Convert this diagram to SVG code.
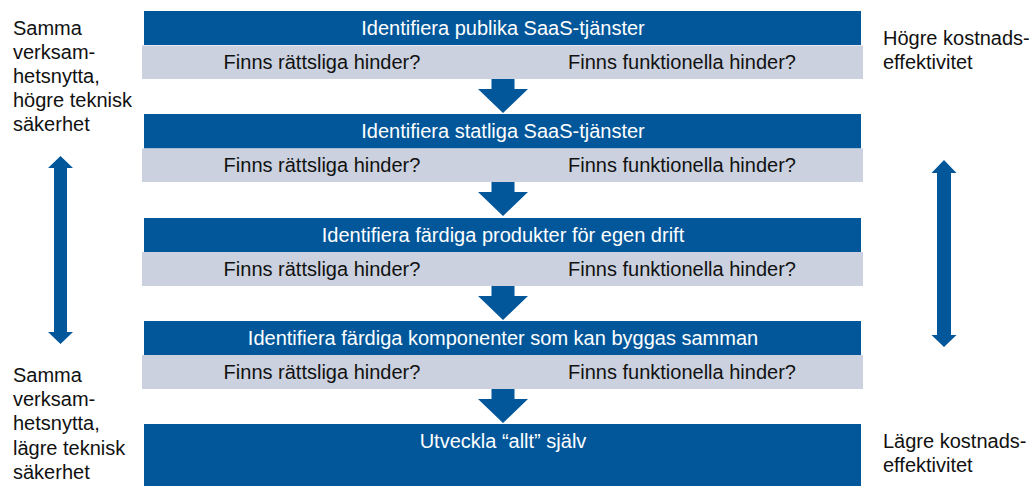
<svg xmlns="http://www.w3.org/2000/svg" width="1031" height="486" viewBox="0 0 1031 486">
<defs>
<style>
.dark{fill:#02579b}
.light{fill:#cbd1df}
.arr{fill:#02579b}
.tw{font-family:"Liberation Sans",Arial,sans-serif;font-size:20px;fill:#ffffff;text-anchor:middle}
.tb{font-family:"Liberation Sans",Arial,sans-serif;font-size:20px;fill:#111111;text-anchor:middle}
.side{font-family:"Liberation Sans",Arial,sans-serif;font-size:20px;fill:#111111}
</style>
<path id="down" d="M-11.5,0 H11.5 V10 H25 L0,34 L-25,10 H-11.5 Z"/>
</defs>
<rect width="1031" height="486" fill="#ffffff"/>

<g id="step1">
<rect class="dark" x="144" y="11" width="717" height="34"/>
<text class="tw" x="503" y="35">Identifiera publika SaaS-tjänster</text>
<rect class="light" x="142" y="45.5" width="721" height="33.5"/>
<text class="tb" x="322" y="69">Finns rättsliga hinder?</text>
<text class="tb" x="682" y="69">Finns funktionella hinder?</text>
</g>
<g id="step2">
<rect class="dark" x="144" y="114" width="717" height="34.5"/>
<text class="tw" x="503" y="138">Identifiera statliga SaaS-tjänster</text>
<rect class="light" x="142" y="148.5" width="721" height="33.5"/>
<text class="tb" x="322" y="172">Finns rättsliga hinder?</text>
<text class="tb" x="682" y="172">Finns funktionella hinder?</text>
</g>
<g id="step3">
<rect class="dark" x="144" y="218" width="717" height="34"/>
<text class="tw" x="503" y="242">Identifiera färdiga produkter för egen drift</text>
<rect class="light" x="142" y="252" width="721" height="34"/>
<text class="tb" x="322" y="276">Finns rättsliga hinder?</text>
<text class="tb" x="682" y="276">Finns funktionella hinder?</text>
</g>
<g id="step4">
<rect class="dark" x="144" y="321" width="717" height="34"/>
<text class="tw" x="503" y="345">Identifiera färdiga komponenter som kan byggas samman</text>
<rect class="light" x="142" y="355" width="721" height="34"/>
<text class="tb" x="322" y="379">Finns rättsliga hinder?</text>
<text class="tb" x="682" y="379">Finns funktionella hinder?</text>
</g>
<g id="step5">
<rect class="dark" x="144" y="424" width="717" height="62"/>
<text class="tw" x="503" y="448">Utveckla “allt” själv</text>
</g>

<g id="label-top-left">
<text class="side" x="13" y="35">Samma</text>
<text class="side" x="13" y="59">verksam-</text>
<text class="side" x="13" y="83">hetsnytta,</text>
<text class="side" x="13" y="107">högre teknisk</text>
<text class="side" x="13" y="131">säkerhet</text>
</g>
<g id="label-bottom-left">
<text class="side" x="13" y="382">Samma</text>
<text class="side" x="13" y="406">verksam-</text>
<text class="side" x="13" y="430">hetsnytta,</text>
<text class="side" x="13" y="455">lägre teknisk</text>
<text class="side" x="13" y="479">säkerhet</text>
</g>
<g id="label-top-right">
<text class="side" x="883" y="45">Högre kostnads-</text>
<text class="side" x="883" y="69">effektivitet</text>
</g>
<g id="label-bottom-right">
<text class="side" x="883" y="448">Lägre kostnads-</text>
<text class="side" x="883" y="472">effektivitet</text>
</g>

<g id="connectors">
<use href="#down" class="arr" x="503" y="79"/>
<use href="#down" class="arr" x="503" y="182"/>
<use href="#down" class="arr" x="503" y="286"/>
<use href="#down" class="arr" x="503" y="389"/>
<path class="arr" d="M60.5,156 L73,168 H67 V332 H73 L60.5,344 L48,332 H54 V168 H48 Z"/>
<path class="arr" d="M944,160 L956.5,173 H951 V335 H956.5 L944,347 L931.5,335 H937 V173 H931.5 Z"/>
</g>
</svg>
